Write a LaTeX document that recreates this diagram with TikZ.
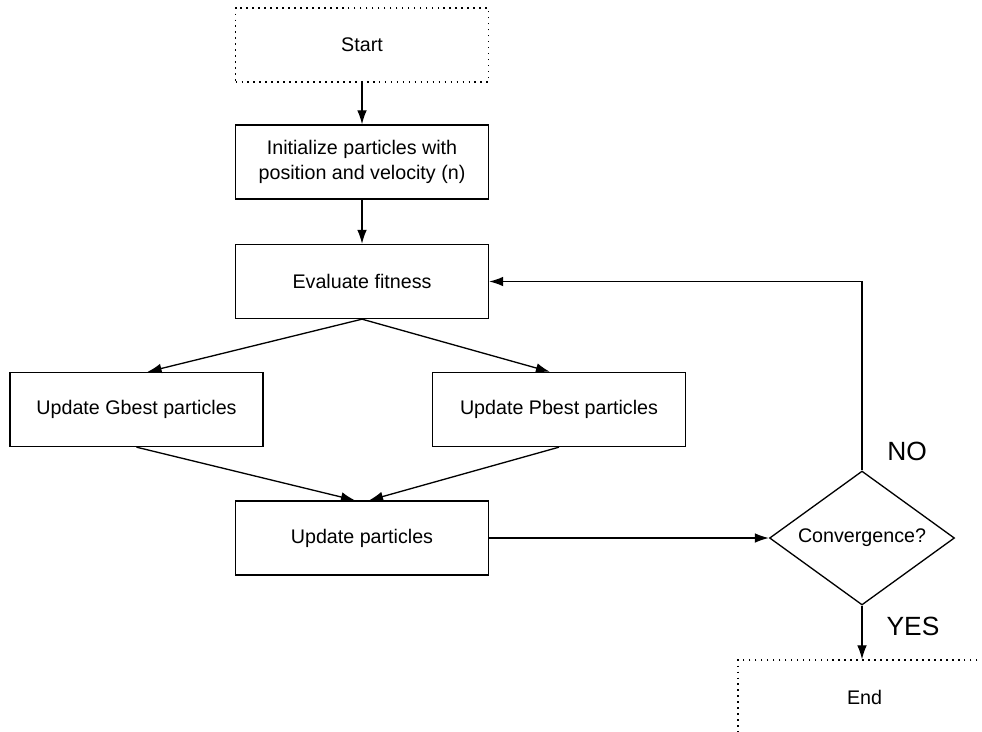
\documentclass[tikz,border=0pt]{standalone}
\usepackage{fontspec}
\setmainfont{Liberation Sans}
\usepackage{tikz}
\usetikzlibrary{arrows.meta,shapes.geometric}
\tikzstyle{block} = [draw, rectangle, line width=0.75pt, fill=white,
    minimum width=5.06cm, minimum height=1.48cm, align=center,
    font=\fontsize{11.2}{14}\selectfont]
\tikzstyle{terminal} = [block, dash pattern=on 0.9pt off 2.5pt]
\tikzstyle{decision} = [draw, diamond, aspect=1.38, inner sep=0pt, line width=0.75pt,
    minimum width=3.7cm, minimum height=2.68cm, font=\fontsize{11.2}{14}\selectfont]
\tikzstyle{answer} = [font=\fontsize{15}{17}\selectfont]
\tikzstyle{line} = [draw, ->, line width=0.75pt]

\begin{document}
\begin{tikzpicture}[x=0.02cm, y=-0.02cm, >={Latex[length=8pt,width=5.5pt]}]
    \useasboundingbox (0,0) rectangle (982,731);
    \clip (0,0) rectangle (982,731);
    \node [terminal] (start) at (362,45) {Start};
    \node [block] (init) at (362,162) {Initialize particles with\\position and velocity (n)};
    \node [block] (eval) at (362,281.5) {Evaluate fitness};
    \node [block] (gbest) at (136.5,409.5) {Update Gbest particles};
    \node [block] (pbest) at (559,409.5) {Update Pbest particles};
    \node [block] (upd) at (362,538) {Update particles};
    \node [decision] (conv) at (862,538) {Convergence?};
    \node [terminal] (end) at (864.5,697) {End};
    \node [answer] (no) at (907,451) {NO};
    \node [answer] (yes) at (913,626) {YES};

    \path [line] (start) -- (init);
    \path [line] (init) -- (eval);
    \path [line] (eval.south) -- ([xshift=0.22cm]gbest.north);
    \path [line] (eval.south) -- ([xshift=-0.18cm]pbest.north);
    \path [line] (gbest.south) -- ([xshift=-0.14cm]upd.north);
    \path [line] (pbest.south) -- ([xshift=0.14cm]upd.north);
    \path [line] (upd) -- (conv);
    \path [line] (conv.north) |- (eval.east);
    \path [line] (conv.south) -- (conv.south |- end.north);
\end{tikzpicture}
\end{document}
